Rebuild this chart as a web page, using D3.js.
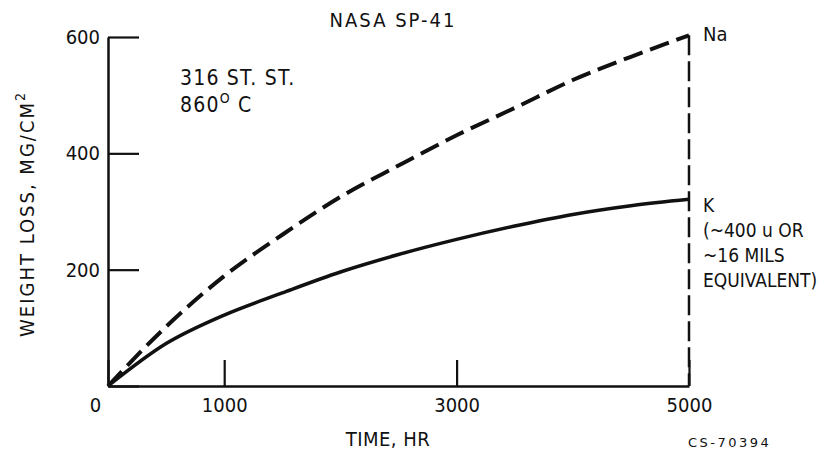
<!DOCTYPE html>
<html>
<head>
<meta charset="utf-8">
<script src="https://cdn.jsdelivr.net/npm/d3@7"></script>
<style>
  body { margin: 0; background: #fff; }
  text { font-family: "DejaVu Sans Condensed", "Liberation Sans Narrow", sans-serif; fill: #111; }
</style>
</head>
<body>
<script>
// data (weight loss, mg/cm2 vs time, hr)
const hours = [0, 500, 1000, 1500, 2000, 2500, 3000, 3500, 4000, 4500, 5000];
const naLoss = [0, 102, 189, 260, 325, 379, 431, 478, 526, 566, 603];
const kLoss = [0, 73, 122, 160, 196, 226, 252, 275, 295, 310, 321];
const xTicks = [0, 1000, 3000, 5000];
const yTicks = [0, 200, 400, 600];

const width = 835;
const height = 455;

const svg = d3.select('body').append('svg')
    .attr('width', width)
    .attr('height', height);

const x = d3.scaleLinear().domain([0, 5000]).range([108, 689]);
const y = d3.scaleLinear().domain([0, 600]).range([386, 37]);

// axes, ticks pointing inward
const xAxis = svg.append('g')
    .attr('transform', `translate(0,${y(0)})`)
    .call(d3.axisBottom(x).tickValues(xTicks).tickSizeInner(-26).tickSizeOuter(0).tickPadding(12).tickFormat(d3.format('d')));
const yAxis = svg.append('g')
    .attr('transform', `translate(${x(0)},0)`)
    .call(d3.axisLeft(y).tickValues(yTicks).tickSizeInner(-31).tickSizeOuter(0).tickPadding(8)
        .tickFormat(d => d === 0 ? '' : d));

[xAxis, yAxis].forEach(g => {
  g.select('.domain').attr('stroke', '#111').attr('stroke-width', 2.5);
  g.selectAll('.tick line').attr('stroke', '#111').attr('stroke-width', 2.2);
  g.selectAll('.tick text').attr('font-size', 20).attr('fill', '#111')
      .style('font-family', '"DejaVu Sans Condensed", sans-serif');
});
xAxis.selectAll('.tick').filter(d => d === 0).select('text').attr('dx', -13);

// vertical dashed line at 5000 hr
svg.append('line')
    .attr('x1', x(5000)).attr('x2', x(5000))
    .attr('y1', y(naLoss[naLoss.length - 1])).attr('y2', y(0))
    .attr('stroke', '#111')
    .attr('stroke-width', 2.5)
    .attr('stroke-dasharray', '20,6');

const line = d3.line()
    .x((d, i) => x(hours[i]))
    .y(d => y(d))
    .curve(d3.curveMonotoneX);

svg.append('path')
    .attr('d', line(naLoss))
    .attr('fill', 'none')
    .attr('stroke', '#111')
    .attr('stroke-width', 4)
    .attr('stroke-dasharray', '20,8');

svg.append('path')
    .attr('d', line(kLoss))
    .attr('fill', 'none')
    .attr('stroke', '#111')
    .attr('stroke-width', 3.5);

// title
svg.append('text')
    .attr('x', 393).attr('y', 27)
    .attr('text-anchor', 'middle')
    .attr('font-size', 20)
    .attr('letter-spacing', 2)
    .text('NASA SP-41');

// annotation
svg.append('text')
    .attr('x', 180).attr('y', 85)
    .attr('font-size', 21)
    .attr('letter-spacing', 1.2)
    .text('316 ST. ST.');
const t2 = svg.append('text')
    .attr('x', 180).attr('y', 112)
    .attr('font-size', 21)
    .attr('letter-spacing', 1.2);
t2.append('tspan').text('860');
t2.append('tspan').attr('dy', -9).attr('font-size', 14).text('O');
t2.append('tspan').attr('dy', 9).text(' C');

// series labels
svg.append('text')
    .attr('x', 703).attr('y', 41)
    .attr('font-size', 20)
    .text('Na');
const kLines = ['K', '(~400 u  OR', '~16 MILS', 'EQUIVALENT)'];
svg.append('g').selectAll('text')
    .data(kLines)
    .join('text')
    .attr('x', 703)
    .attr('y', (d, i) => 212 + i * 25)
    .attr('font-size', 19)
    .text(d => d);

// axis titles
svg.append('text')
    .attr('x', 388).attr('y', 446)
    .attr('text-anchor', 'middle')
    .attr('font-size', 20)
    .attr('letter-spacing', 0.5)
    .text('TIME,  HR');

const yl = svg.append('text')
    .attr('transform', 'translate(34,214) rotate(-90)')
    .attr('text-anchor', 'middle')
    .attr('font-size', 20)
    .attr('letter-spacing', 2);
yl.append('tspan').text('WEIGHT LOSS,  MG/CM');
yl.append('tspan').attr('dy', -9).attr('font-size', 14).text('2');

svg.append('text')
    .attr('x', 688).attr('y', 447)
    .attr('font-size', 13)
    .attr('letter-spacing', 2.5)
    .style('font-family', '"DejaVu Sans", sans-serif')
    .text('CS-70394');
</script>
</body>
</html>
